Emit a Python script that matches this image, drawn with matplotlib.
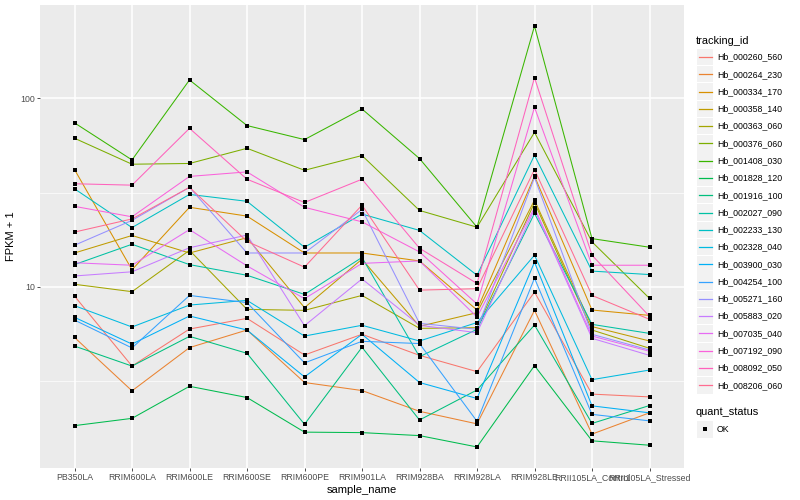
import numpy as np
import matplotlib
matplotlib.use("Agg")
import matplotlib.pyplot as plt
from matplotlib.patches import Rectangle
from matplotlib.lines import Line2D
from matplotlib.ticker import FixedLocator, NullFormatter

plt.rcParams['font.family'] = ['Liberation Sans', 'DejaVu Sans']

samples = ["PB350LA", "RRIM600LA", "RRIM600LE", "RRIM600SE", "RRIM600PE",
           "RRIM901LA", "RRIM928BA", "RRIM928LA", "RRIM928LE",
           "RRII105LA_Control", "RRII105LA_Stressed"]

# FPKM + 1 per sample
hb_000260_560 = [8.92, 3.79, 5.96, 6.79, 4.34, 5.59, 4.32, 3.54, 9.36, 2.69, 2.60]
hb_000264_230 = [5.38, 2.80, 4.75, 5.89, 3.10, 2.81, 2.18, 1.87, 7.49, 1.65, 2.14]
hb_000334_170 = [41.9, 12.3, 26.4, 23.7, 15.1, 15.1, 13.7, 7.52, 38.6, 7.52, 7.04]
hb_000358_140 = [15.1, 18.7, 15.1, 18.2, 7.74, 14.0, 6.16, 7.28, 28.8, 6.14, 5.15]
hb_000363_060 = [10.3, 9.41, 15.6, 7.58, 7.49, 8.99, 6.01, 6.06, 27.9, 5.89, 4.71]
hb_000376_060 = [61.4, 44.7, 45.1, 54.3, 41.5, 49.7, 25.4, 20.7, 66.0, 17.3, 8.67]
hb_001408_030 = [74.1, 47.1, 125.2, 71.7, 60.4, 87.8, 47.9, 20.7, 242.0, 18.0, 16.2]
hb_001828_120 = [1.83, 2.00, 2.96, 2.58, 1.69, 1.68, 1.62, 1.41, 3.81, 1.52, 1.44]
hb_001916_100 = [4.84, 3.79, 5.45, 4.43, 1.86, 4.77, 1.96, 2.83, 6.26, 1.88, 2.34]
hb_002027_090 = [13.1, 16.8, 13.1, 11.5, 9.10, 14.3, 4.25, 5.94, 24.5, 6.31, 5.65]
hb_002233_130 = [33.1, 20.6, 30.9, 28.4, 16.2, 24.3, 19.9, 11.5, 49.9, 12.1, 11.6]
hb_002328_040 = [7.93, 6.11, 7.99, 8.46, 5.47, 6.24, 5.15, 6.45, 14.7, 3.21, 3.61]
hb_003900_030 = [6.88, 4.96, 6.99, 5.89, 3.32, 5.59, 3.10, 2.55, 13.5, 2.33, 2.14]
hb_004254_100 = [6.65, 4.73, 8.99, 8.23, 3.94, 5.13, 4.99, 1.93, 11.1, 2.10, 1.94]
hb_005271_160 = [16.6, 22.5, 33.7, 15.1, 15.1, 25.7, 6.39, 5.94, 38.0, 5.59, 4.61]
hb_005883_020 = [11.4, 12.0, 16.1, 18.8, 6.21, 11.0, 6.24, 5.70, 25.7, 5.32, 4.32]
hb_007035_040 = [13.4, 13.0, 20.1, 12.9, 8.64, 13.3, 13.7, 6.90, 26.3, 5.47, 4.54]
hb_007192_090 = [26.7, 23.5, 38.5, 40.7, 26.4, 22.1, 15.3, 8.09, 89.6, 13.0, 13.0]
hb_008092_050 = [35.2, 34.6, 69.3, 37.2, 28.0, 37.2, 16.0, 10.4, 128.8, 14.7, 6.96]
hb_008206_060 = [19.5, 22.9, 33.7, 17.4, 12.7, 27.1, 9.59, 9.76, 41.9, 8.99, 6.71]

tracking_ids = ["Hb_000260_560", "Hb_000264_230", "Hb_000334_170", "Hb_000358_140",
                "Hb_000363_060", "Hb_000376_060", "Hb_001408_030", "Hb_001828_120",
                "Hb_001916_100", "Hb_002027_090", "Hb_002233_130", "Hb_002328_040",
                "Hb_003900_030", "Hb_004254_100", "Hb_005271_160", "Hb_005883_020",
                "Hb_007035_040", "Hb_007192_090", "Hb_008092_050", "Hb_008206_060"]

series = [hb_000260_560, hb_000264_230, hb_000334_170, hb_000358_140,
          hb_000363_060, hb_000376_060, hb_001408_030, hb_001828_120,
          hb_001916_100, hb_002027_090, hb_002233_130, hb_002328_040,
          hb_003900_030, hb_004254_100, hb_005271_160, hb_005883_020,
          hb_007035_040, hb_007192_090, hb_008092_050, hb_008206_060]

# ggplot default hue palette for 20 levels
colors = ["#F8766D", "#EA8331", "#D89000", "#C09B00", "#A3A500", "#7CAE00",
          "#39B600", "#00BB4E", "#00BF7D", "#00C1A3", "#00BFC4", "#00BAE0",
          "#00B0F6", "#35A2FF", "#9590FF", "#C77CFF", "#E76BF3", "#FA62DB",
          "#FF62BC", "#FF6C91"]

W, H = 800, 500
fig = plt.figure(figsize=(W / 100, H / 100), dpi=100)
ax = fig.add_axes([40 / W, 32 / H, 644 / W, 463 / H])
ax.set_facecolor('#EBEBEB')
for s in ax.spines.values():
    s.set_visible(False)

x = np.arange(len(samples))
for vals, c in zip(series, colors):
    ax.plot(x, vals, color=c, lw=0.75, zorder=2)
for vals in series:
    ax.plot(x, vals, 's', color='black', ms=3.0, mew=0, zorder=3)

# log scale with ggplot-like 5% expansion
allv = np.log10(np.concatenate([np.array(v) for v in series]))
lo, hi = allv.min(), allv.max()
pad = 0.05 * (hi - lo)
ax.set_yscale('log')
ax.set_ylim(10 ** (lo - pad), 10 ** (hi + pad))
ax.set_xlim(-0.6, len(samples) - 0.4)

ax.yaxis.set_major_locator(FixedLocator([10, 100]))
ax.yaxis.set_minor_locator(FixedLocator([10 ** 0.5, 10 ** 1.5, 10 ** 2.5]))
ax.yaxis.set_minor_formatter(NullFormatter())
ax.set_yticklabels(['10', '100'])
ax.set_xticks(x)
ax.set_xticklabels(samples)
ax.tick_params(axis='both', which='major', length=2.2, width=0.6, color='#333333',
               labelcolor='#4D4D4D', labelsize=6.3, pad=1.5)
ax.tick_params(axis='y', which='minor', length=0)
ax.grid(which='major', color='white', lw=1.1)
ax.grid(which='minor', axis='y', color='white', lw=0.5)
ax.set_axisbelow(True)

ax.set_xlabel('sample_name', fontsize=8, labelpad=2)
ax.set_ylabel('FPKM + 1', fontsize=8, labelpad=3)

# manual ggplot-style legend
def fx(px):
    return px / W

def fy(py):
    return 1 - py / H

fig.text(fx(696), fy(40.5), 'tracking_id', fontsize=7.9, va='center', ha='left')
for i, (tid, c) in enumerate(zip(tracking_ids, colors)):
    cy = 57 + i * 17.28
    fig.add_artist(Rectangle((fx(697), fy(cy + 8.2)), 16 / W, 16.4 / H,
                             transform=fig.transFigure, facecolor='#F2F2F2',
                             edgecolor='none', zorder=1))
    fig.add_artist(Line2D([fx(698.5), fx(711.5)], [fy(cy), fy(cy)],
                          transform=fig.transFigure, color=c, lw=0.9, zorder=5))
    fig.text(fx(717), fy(cy), tid, fontsize=6.3, va='center', ha='left')

fig.text(fx(696), fy(412), 'quant_status', fontsize=7.9, va='center', ha='left')
fig.add_artist(Rectangle((fx(697), fy(429.3 + 8.2)), 16 / W, 16.4 / H,
                         transform=fig.transFigure, facecolor='#F2F2F2',
                         edgecolor='none', zorder=1))
fig.add_artist(Line2D([fx(705)], [fy(429.3)], transform=fig.transFigure,
                      marker='s', color='black', ms=3.0, mew=0, lw=0, zorder=5))
fig.text(fx(717), fy(429.3), 'OK', fontsize=6.3, va='center', ha='left')

fig.savefig('out.png', dpi=100)
